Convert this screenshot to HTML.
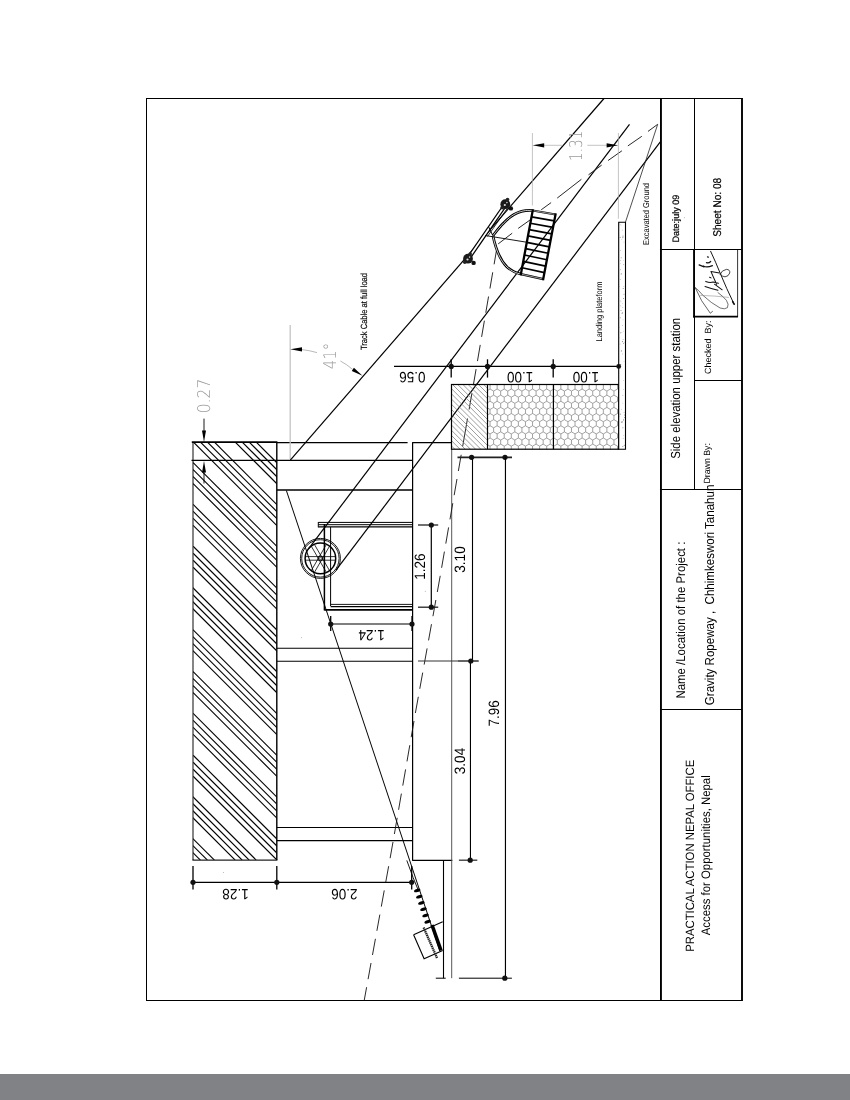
<!DOCTYPE html>
<html lang="en"><head><meta charset="utf-8"><title>Side elevation upper station</title>
<style>
html,body{margin:0;padding:0;background:#fff;}
body{width:850px;height:1100px;overflow:hidden;font-family:"Liberation Sans",sans-serif;}
svg{display:block;}
text{text-rendering:geometricPrecision;}
svg{will-change:transform;}
</style></head><body>
<svg width="850" height="1100" viewBox="0 0 850 1100">
<rect width="850" height="1100" fill="#fff"/>
<rect x="0" y="1074" width="850" height="26" fill="#808285"/>
<clipPath id="hc"><rect x="193.00" y="442.10" width="83.80" height="418.00"/></clipPath>
<g clip-path="url(#hc)" stroke="#000" stroke-width="1.15">
<line x1="-308.20" y1="442.10" x2="109.80" y2="860.10"/>
<line x1="-301.20" y1="442.10" x2="116.80" y2="860.10"/>
<line x1="-294.20" y1="442.10" x2="123.80" y2="860.10"/>
<line x1="-287.20" y1="442.10" x2="130.80" y2="860.10"/>
<line x1="-266.40" y1="442.10" x2="151.60" y2="860.10"/>
<line x1="-259.40" y1="442.10" x2="158.60" y2="860.10"/>
<line x1="-252.40" y1="442.10" x2="165.60" y2="860.10"/>
<line x1="-245.40" y1="442.10" x2="172.60" y2="860.10"/>
<line x1="-224.60" y1="442.10" x2="193.40" y2="860.10"/>
<line x1="-217.60" y1="442.10" x2="200.40" y2="860.10"/>
<line x1="-210.60" y1="442.10" x2="207.40" y2="860.10"/>
<line x1="-203.60" y1="442.10" x2="214.40" y2="860.10"/>
<line x1="-182.80" y1="442.10" x2="235.20" y2="860.10"/>
<line x1="-175.80" y1="442.10" x2="242.20" y2="860.10"/>
<line x1="-168.80" y1="442.10" x2="249.20" y2="860.10"/>
<line x1="-161.80" y1="442.10" x2="256.20" y2="860.10"/>
<line x1="-141.00" y1="442.10" x2="277.00" y2="860.10"/>
<line x1="-134.00" y1="442.10" x2="284.00" y2="860.10"/>
<line x1="-127.00" y1="442.10" x2="291.00" y2="860.10"/>
<line x1="-120.00" y1="442.10" x2="298.00" y2="860.10"/>
<line x1="-99.20" y1="442.10" x2="318.80" y2="860.10"/>
<line x1="-92.20" y1="442.10" x2="325.80" y2="860.10"/>
<line x1="-85.20" y1="442.10" x2="332.80" y2="860.10"/>
<line x1="-78.20" y1="442.10" x2="339.80" y2="860.10"/>
<line x1="-57.40" y1="442.10" x2="360.60" y2="860.10"/>
<line x1="-50.40" y1="442.10" x2="367.60" y2="860.10"/>
<line x1="-43.40" y1="442.10" x2="374.60" y2="860.10"/>
<line x1="-36.40" y1="442.10" x2="381.60" y2="860.10"/>
<line x1="-15.60" y1="442.10" x2="402.40" y2="860.10"/>
<line x1="-8.60" y1="442.10" x2="409.40" y2="860.10"/>
<line x1="-1.60" y1="442.10" x2="416.40" y2="860.10"/>
<line x1="5.40" y1="442.10" x2="423.40" y2="860.10"/>
<line x1="26.20" y1="442.10" x2="444.20" y2="860.10"/>
<line x1="33.20" y1="442.10" x2="451.20" y2="860.10"/>
<line x1="40.20" y1="442.10" x2="458.20" y2="860.10"/>
<line x1="47.20" y1="442.10" x2="465.20" y2="860.10"/>
<line x1="68.00" y1="442.10" x2="486.00" y2="860.10"/>
<line x1="75.00" y1="442.10" x2="493.00" y2="860.10"/>
<line x1="82.00" y1="442.10" x2="500.00" y2="860.10"/>
<line x1="89.00" y1="442.10" x2="507.00" y2="860.10"/>
<line x1="109.80" y1="442.10" x2="527.80" y2="860.10"/>
<line x1="116.80" y1="442.10" x2="534.80" y2="860.10"/>
<line x1="123.80" y1="442.10" x2="541.80" y2="860.10"/>
<line x1="130.80" y1="442.10" x2="548.80" y2="860.10"/>
<line x1="151.60" y1="442.10" x2="569.60" y2="860.10"/>
<line x1="158.60" y1="442.10" x2="576.60" y2="860.10"/>
<line x1="165.60" y1="442.10" x2="583.60" y2="860.10"/>
<line x1="172.60" y1="442.10" x2="590.60" y2="860.10"/>
<line x1="193.40" y1="442.10" x2="611.40" y2="860.10"/>
<line x1="200.40" y1="442.10" x2="618.40" y2="860.10"/>
<line x1="207.40" y1="442.10" x2="625.40" y2="860.10"/>
<line x1="214.40" y1="442.10" x2="632.40" y2="860.10"/>
<line x1="235.20" y1="442.10" x2="653.20" y2="860.10"/>
<line x1="242.20" y1="442.10" x2="660.20" y2="860.10"/>
<line x1="249.20" y1="442.10" x2="667.20" y2="860.10"/>
<line x1="256.20" y1="442.10" x2="674.20" y2="860.10"/>
<line x1="277.00" y1="442.10" x2="695.00" y2="860.10"/>
<line x1="284.00" y1="442.10" x2="702.00" y2="860.10"/>
<line x1="291.00" y1="442.10" x2="709.00" y2="860.10"/>
<line x1="298.00" y1="442.10" x2="716.00" y2="860.10"/>
</g>
<line x1="193.00" y1="442.10" x2="193.00" y2="860.10" stroke="#333" stroke-width="1.2" />
<line x1="192.40" y1="860.10" x2="277.40" y2="860.10" stroke="#222" stroke-width="1.3" />
<line x1="276.80" y1="442.10" x2="276.80" y2="860.10" stroke="#000" stroke-width="1.4" />
<line x1="191.80" y1="442.10" x2="277.40" y2="442.10" stroke="#000" stroke-width="1.6" />
<rect x="146.5" y="98.5" width="595.5" height="902" fill="none" stroke="#000" stroke-width="1"/>
<line x1="660.95" y1="98.50" x2="660.95" y2="1000.50" stroke="#000" stroke-width="1.9" />
<line x1="742.00" y1="98.00" x2="742.00" y2="1001.00" stroke="#000" stroke-width="1.8" />
<line x1="694.50" y1="98.50" x2="694.50" y2="489.40" stroke="#000" stroke-width="1.0" />
<line x1="661.00" y1="249.50" x2="742.00" y2="249.50" stroke="#000" stroke-width="1.0" />
<line x1="694.40" y1="380.50" x2="742.00" y2="380.50" stroke="#000" stroke-width="1.0" />
<line x1="661.00" y1="489.40" x2="742.00" y2="489.40" stroke="#000" stroke-width="1.05" />
<line x1="661.00" y1="709.40" x2="742.00" y2="709.40" stroke="#000" stroke-width="1.05" />
<line x1="694.00" y1="249.00" x2="694.00" y2="317.60" stroke="#000" stroke-width="1.8" />
<line x1="693.10" y1="316.70" x2="738.00" y2="316.70" stroke="#000" stroke-width="1.8" />
<line x1="737.60" y1="249.00" x2="737.60" y2="317.00" stroke="#000" stroke-width="0.8" />
<g transform="translate(690,245) scale(0.07)" fill="none" stroke="#111" stroke-linecap="round" stroke-linejoin="round">
<path d="M295 90 Q370 250 430 400 Q520 620 630 845" stroke-width="14"/>
<path d="M610 810 L630 845" stroke-width="24"/>
<path d="M430 420 Q450 360 520 348 Q575 350 568 400 Q550 450 500 455 Q460 450 440 425" stroke-width="11"/>
<path d="M75 610 Q120 640 180 715 Q300 830 430 900 Q500 925 535 895 Q560 850 520 790 Q480 740 400 680" stroke-width="10" stroke="#333"/>
<path d="M150 720 Q350 725 550 748" stroke-width="7" stroke="#777"/>
<path d="M75 610 Q150 800 290 975 L322 948" stroke-width="10" stroke="#222"/>
<path d="M130 285 L200 312 M190 300 Q240 330 320 295 M235 252 Q270 262 295 235 M250 170 L262 172" stroke-width="18"/>
<path d="M215 592 Q300 620 400 645 M225 520 Q280 545 330 530 L405 548 M350 560 L460 640 M300 380 L420 400 M280 460 L300 470 M300 380 Q330 450 380 560" stroke-width="15"/>
</g>
<text transform="translate(693.80,951.80) rotate(-90)" font-family="'Liberation Sans', sans-serif" font-size="12" fill="#000" text-anchor="start" textLength="192.0" lengthAdjust="spacingAndGlyphs" >PRACTICAL ACTION NEPAL OFFICE</text>
<text transform="translate(709.50,935.30) rotate(-90)" font-family="'Liberation Sans', sans-serif" font-size="12.3" fill="#000" text-anchor="start" textLength="160.0" lengthAdjust="spacingAndGlyphs" >Access for Opportunities, Nepal</text>
<text transform="translate(685.20,698.60) rotate(-90)" font-family="'Liberation Sans', sans-serif" font-size="12.6" fill="#000" text-anchor="start" textLength="157.0" lengthAdjust="spacingAndGlyphs" >Name /Location of the Project :</text>
<text transform="translate(714.30,705.20) rotate(-90)" font-family="'Liberation Sans', sans-serif" font-size="13" fill="#000" text-anchor="start" textLength="220.6" lengthAdjust="spacingAndGlyphs" xml:space="preserve">Gravity Ropeway ,  Chhimkeswori Tanahun</text>
<text transform="translate(679.90,458.80) rotate(-90)" font-family="'Liberation Sans', sans-serif" font-size="13" fill="#000" text-anchor="start" textLength="141.0" lengthAdjust="spacingAndGlyphs" >Side elevation upper station</text>
<text transform="translate(710.40,483.60) rotate(-90)" font-family="'Liberation Sans', sans-serif" font-size="9" fill="#000" text-anchor="start" textLength="40.5" lengthAdjust="spacingAndGlyphs" >Drawn By:</text>
<text transform="translate(710.60,374.00) rotate(-90)" font-family="'Liberation Sans', sans-serif" font-size="9" fill="#000" text-anchor="start" textLength="53.5" lengthAdjust="spacingAndGlyphs" xml:space="preserve">Checked  By:</text>
<text transform="translate(678.70,242.60) rotate(-90)" font-family="'Liberation Sans', sans-serif" font-size="9.4" fill="#000" text-anchor="start" textLength="48.0" lengthAdjust="spacingAndGlyphs" stroke="#000" stroke-width="0.2">Date:july 09</text>
<text transform="translate(721.20,236.80) rotate(-90)" font-family="'Liberation Sans', sans-serif" font-size="11.2" fill="#000" text-anchor="start" textLength="59.0" lengthAdjust="spacingAndGlyphs" stroke="#000" stroke-width="0.2">Sheet No: 08</text>
<line x1="277.00" y1="442.60" x2="407.60" y2="442.60" stroke="#000" stroke-width="1.1" />
<line x1="412.20" y1="442.60" x2="451.70" y2="442.60" stroke="#000" stroke-width="1.1" />
<line x1="191.50" y1="460.30" x2="412.60" y2="460.30" stroke="#000" stroke-width="1.2" />
<line x1="277.00" y1="490.00" x2="412.60" y2="490.00" stroke="#000" stroke-width="1.4" />
<line x1="277.00" y1="648.30" x2="412.60" y2="648.30" stroke="#000" stroke-width="1.1" />
<line x1="277.00" y1="661.30" x2="412.60" y2="661.30" stroke="#000" stroke-width="1.1" />
<line x1="277.00" y1="827.50" x2="412.60" y2="827.50" stroke="#000" stroke-width="1.1" />
<line x1="277.00" y1="840.60" x2="412.60" y2="840.60" stroke="#000" stroke-width="1.1" />
<line x1="412.60" y1="442.60" x2="412.60" y2="860.40" stroke="#000" stroke-width="1.2" />
<line x1="412.20" y1="860.40" x2="452.30" y2="860.40" stroke="#000" stroke-width="1.1" />
<line x1="451.70" y1="449.00" x2="451.70" y2="978.20" stroke="#444" stroke-width="0.9" />
<line x1="443.50" y1="860.40" x2="443.50" y2="978.20" stroke="#000" stroke-width="1.1" />
<line x1="435.80" y1="978.20" x2="445.70" y2="978.20" stroke="#000" stroke-width="1.0" />
<line x1="290.20" y1="325.00" x2="290.20" y2="460.00" stroke="#c4c4c4" stroke-width="1.3" />
<line x1="290.30" y1="460.20" x2="604.00" y2="98.50" stroke="#000" stroke-width="1.2" />
<line x1="308.30" y1="549.20" x2="629.50" y2="124.30" stroke="#000" stroke-width="1.2" />
<line x1="336.00" y1="570.20" x2="660.30" y2="141.80" stroke="#000" stroke-width="1.2" />
<line x1="286.40" y1="490.60" x2="440.00" y2="951.40" stroke="#000" stroke-width="1.0" />
<line x1="657.70" y1="124.30" x2="648.00" y2="131.40" stroke="#111" stroke-width="0.9" />
<line x1="641.80" y1="136.30" x2="627.90" y2="145.90" stroke="#111" stroke-width="0.9" />
<line x1="621.90" y1="150.80" x2="608.10" y2="160.50" stroke="#111" stroke-width="0.9" />
<line x1="601.70" y1="165.10" x2="588.50" y2="174.80" stroke="#111" stroke-width="0.9" />
<line x1="581.40" y1="179.30" x2="557.20" y2="198.10" stroke="#111" stroke-width="0.9" />
<line x1="551.10" y1="202.60" x2="541.20" y2="209.80" stroke="#111" stroke-width="0.9" />
<line x1="530.30" y1="219.80" x2="518.20" y2="228.40" stroke="#111" stroke-width="0.9" />
<line x1="512.20" y1="233.20" x2="498.20" y2="243.90" stroke="#111" stroke-width="0.9" />
<line x1="496.88" y1="248.10" x2="494.10" y2="264.30" stroke="#111" stroke-width="0.9" />
<line x1="492.72" y1="272.30" x2="489.94" y2="288.50" stroke="#111" stroke-width="0.9" />
<line x1="488.56" y1="296.50" x2="485.78" y2="312.70" stroke="#111" stroke-width="0.9" />
<line x1="484.40" y1="320.70" x2="481.62" y2="336.90" stroke="#111" stroke-width="0.9" />
<line x1="480.24" y1="344.90" x2="477.46" y2="361.10" stroke="#111" stroke-width="0.9" />
<line x1="476.08" y1="369.10" x2="473.30" y2="385.30" stroke="#111" stroke-width="0.9" />
<line x1="471.92" y1="393.30" x2="469.10" y2="409.50" stroke="#111" stroke-width="0.9" />
<line x1="467.53" y1="418.50" x2="462.63" y2="446.60" stroke="#111" stroke-width="0.9" />
<line x1="461.20" y1="454.80" x2="458.37" y2="471.00" stroke="#111" stroke-width="0.9" />
<line x1="456.97" y1="479.00" x2="454.17" y2="495.20" stroke="#111" stroke-width="0.9" />
<line x1="452.79" y1="503.20" x2="449.98" y2="519.40" stroke="#111" stroke-width="0.9" />
<line x1="448.60" y1="527.40" x2="445.80" y2="543.60" stroke="#111" stroke-width="0.9" />
<line x1="444.41" y1="551.60" x2="441.61" y2="567.80" stroke="#111" stroke-width="0.9" />
<line x1="440.23" y1="575.80" x2="437.32" y2="592.00" stroke="#111" stroke-width="0.9" />
<line x1="435.87" y1="600.00" x2="432.94" y2="616.20" stroke="#111" stroke-width="0.9" />
<line x1="431.48" y1="624.20" x2="428.55" y2="640.40" stroke="#111" stroke-width="0.9" />
<line x1="427.10" y1="648.40" x2="424.16" y2="664.60" stroke="#111" stroke-width="0.9" />
<line x1="422.71" y1="672.60" x2="419.77" y2="688.80" stroke="#111" stroke-width="0.9" />
<line x1="418.32" y1="696.80" x2="415.39" y2="713.00" stroke="#111" stroke-width="0.9" />
<line x1="414.00" y1="721.00" x2="411.19" y2="737.20" stroke="#111" stroke-width="0.9" />
<line x1="409.80" y1="745.20" x2="406.99" y2="761.40" stroke="#111" stroke-width="0.9" />
<line x1="405.60" y1="769.40" x2="402.78" y2="785.60" stroke="#111" stroke-width="0.9" />
<line x1="401.39" y1="793.60" x2="398.58" y2="809.80" stroke="#111" stroke-width="0.9" />
<line x1="397.19" y1="817.80" x2="394.38" y2="834.00" stroke="#111" stroke-width="0.9" />
<line x1="392.99" y1="842.00" x2="390.11" y2="858.20" stroke="#111" stroke-width="0.9" />
<line x1="388.65" y1="866.20" x2="385.70" y2="882.40" stroke="#111" stroke-width="0.9" />
<line x1="384.24" y1="890.40" x2="381.30" y2="906.60" stroke="#111" stroke-width="0.9" />
<line x1="379.84" y1="914.60" x2="376.89" y2="930.80" stroke="#111" stroke-width="0.9" />
<line x1="375.43" y1="938.80" x2="372.48" y2="955.00" stroke="#111" stroke-width="0.9" />
<line x1="371.03" y1="963.00" x2="368.08" y2="979.20" stroke="#111" stroke-width="0.9" />
<line x1="366.62" y1="987.20" x2="364.20" y2="1000.50" stroke="#111" stroke-width="0.9" />
<line x1="657.70" y1="124.30" x2="625.50" y2="222.00" stroke="#222" stroke-width="0.8" />
<circle cx="320.4" cy="558.4" r="20.0" fill="none" stroke="#000" stroke-width="0.9"/>
<circle cx="320.4" cy="558.4" r="18.7" fill="none" stroke="#000" stroke-width="0.9"/>
<circle cx="320.4" cy="558.4" r="15.3" fill="none" stroke="#000" stroke-width="1.5"/>
<circle cx="320.4" cy="558.4" r="2.5" fill="none" stroke="#000" stroke-width="0.7"/>
<circle cx="320.4" cy="558.4" r="1" fill="none" stroke="#000" stroke-width="0.5"/>
<line x1="305.40" y1="556.60" x2="335.40" y2="556.60" stroke="#000" stroke-width="0.8" />
<line x1="305.40" y1="560.20" x2="335.40" y2="560.20" stroke="#000" stroke-width="0.8" />
<line x1="314.46" y1="544.51" x2="329.46" y2="570.49" stroke="#000" stroke-width="0.8" />
<line x1="311.34" y1="546.31" x2="326.34" y2="572.29" stroke="#000" stroke-width="0.8" />
<line x1="329.46" y1="546.31" x2="314.46" y2="572.29" stroke="#000" stroke-width="0.8" />
<line x1="326.34" y1="544.51" x2="311.34" y2="570.49" stroke="#000" stroke-width="0.8" />
<line x1="318.30" y1="522.40" x2="412.60" y2="522.40" stroke="#000" stroke-width="1.0" />
<line x1="318.30" y1="524.70" x2="412.60" y2="524.70" stroke="#000" stroke-width="1.0" />
<line x1="318.30" y1="526.90" x2="412.60" y2="526.90" stroke="#000" stroke-width="1.1" />
<line x1="318.30" y1="522.00" x2="318.30" y2="527.40" stroke="#000" stroke-width="1.0" />
<line x1="324.40" y1="524.00" x2="324.40" y2="610.40" stroke="#000" stroke-width="1.5" />
<line x1="330.60" y1="527.00" x2="330.60" y2="606.00" stroke="#000" stroke-width="1.0" />
<line x1="330.60" y1="604.40" x2="412.60" y2="604.40" stroke="#000" stroke-width="0.9" />
<line x1="330.60" y1="606.60" x2="412.60" y2="606.60" stroke="#000" stroke-width="1.1" />
<line x1="324.40" y1="609.80" x2="412.60" y2="609.80" stroke="#000" stroke-width="1.7" />
<defs><clipPath id="fhc"><rect x="451.5" y="384.5" width="36.0" height="64.69999999999999"/></clipPath><clipPath id="hxc"><rect x="487.5" y="384.5" width="131.20" height="64.70"/></clipPath></defs>
<path clip-path="url(#hxc)" d="M475.90 372.72v4.08l3.54 2.04l3.54 -2.04M479.44 378.84v4.08l-3.54 2.04M479.44 382.92l3.54 2.04M482.98 372.72v4.08l3.54 2.04l3.54 -2.04M486.52 378.84v4.08l-3.54 2.04M486.52 382.92l3.54 2.04M490.06 372.72v4.08l3.54 2.04l3.54 -2.04M493.60 378.84v4.08l-3.54 2.04M493.60 382.92l3.54 2.04M497.14 372.72v4.08l3.54 2.04l3.54 -2.04M500.68 378.84v4.08l-3.54 2.04M500.68 382.92l3.54 2.04M504.22 372.72v4.08l3.54 2.04l3.54 -2.04M507.76 378.84v4.08l-3.54 2.04M507.76 382.92l3.54 2.04M511.30 372.72v4.08l3.54 2.04l3.54 -2.04M514.84 378.84v4.08l-3.54 2.04M514.84 382.92l3.54 2.04M518.38 372.72v4.08l3.54 2.04l3.54 -2.04M521.92 378.84v4.08l-3.54 2.04M521.92 382.92l3.54 2.04M525.46 372.72v4.08l3.54 2.04l3.54 -2.04M529.00 378.84v4.08l-3.54 2.04M529.00 382.92l3.54 2.04M532.54 372.72v4.08l3.54 2.04l3.54 -2.04M536.08 378.84v4.08l-3.54 2.04M536.08 382.92l3.54 2.04M539.62 372.72v4.08l3.54 2.04l3.54 -2.04M543.16 378.84v4.08l-3.54 2.04M543.16 382.92l3.54 2.04M546.70 372.72v4.08l3.54 2.04l3.54 -2.04M550.24 378.84v4.08l-3.54 2.04M550.24 382.92l3.54 2.04M553.78 372.72v4.08l3.54 2.04l3.54 -2.04M557.32 378.84v4.08l-3.54 2.04M557.32 382.92l3.54 2.04M560.86 372.72v4.08l3.54 2.04l3.54 -2.04M564.40 378.84v4.08l-3.54 2.04M564.40 382.92l3.54 2.04M567.94 372.72v4.08l3.54 2.04l3.54 -2.04M571.48 378.84v4.08l-3.54 2.04M571.48 382.92l3.54 2.04M575.02 372.72v4.08l3.54 2.04l3.54 -2.04M578.56 378.84v4.08l-3.54 2.04M578.56 382.92l3.54 2.04M582.10 372.72v4.08l3.54 2.04l3.54 -2.04M585.64 378.84v4.08l-3.54 2.04M585.64 382.92l3.54 2.04M589.18 372.72v4.08l3.54 2.04l3.54 -2.04M592.72 378.84v4.08l-3.54 2.04M592.72 382.92l3.54 2.04M596.26 372.72v4.08l3.54 2.04l3.54 -2.04M599.80 378.84v4.08l-3.54 2.04M599.80 382.92l3.54 2.04M603.34 372.72v4.08l3.54 2.04l3.54 -2.04M606.88 378.84v4.08l-3.54 2.04M606.88 382.92l3.54 2.04M610.42 372.72v4.08l3.54 2.04l3.54 -2.04M613.96 378.84v4.08l-3.54 2.04M613.96 382.92l3.54 2.04M617.50 372.72v4.08l3.54 2.04l3.54 -2.04M621.04 378.84v4.08l-3.54 2.04M621.04 382.92l3.54 2.04M624.58 372.72v4.08l3.54 2.04l3.54 -2.04M628.12 378.84v4.08l-3.54 2.04M628.12 382.92l3.54 2.04M475.90 384.96v4.08l3.54 2.04l3.54 -2.04M479.44 391.08v4.08l-3.54 2.04M479.44 395.16l3.54 2.04M482.98 384.96v4.08l3.54 2.04l3.54 -2.04M486.52 391.08v4.08l-3.54 2.04M486.52 395.16l3.54 2.04M490.06 384.96v4.08l3.54 2.04l3.54 -2.04M493.60 391.08v4.08l-3.54 2.04M493.60 395.16l3.54 2.04M497.14 384.96v4.08l3.54 2.04l3.54 -2.04M500.68 391.08v4.08l-3.54 2.04M500.68 395.16l3.54 2.04M504.22 384.96v4.08l3.54 2.04l3.54 -2.04M507.76 391.08v4.08l-3.54 2.04M507.76 395.16l3.54 2.04M511.30 384.96v4.08l3.54 2.04l3.54 -2.04M514.84 391.08v4.08l-3.54 2.04M514.84 395.16l3.54 2.04M518.38 384.96v4.08l3.54 2.04l3.54 -2.04M521.92 391.08v4.08l-3.54 2.04M521.92 395.16l3.54 2.04M525.46 384.96v4.08l3.54 2.04l3.54 -2.04M529.00 391.08v4.08l-3.54 2.04M529.00 395.16l3.54 2.04M532.54 384.96v4.08l3.54 2.04l3.54 -2.04M536.08 391.08v4.08l-3.54 2.04M536.08 395.16l3.54 2.04M539.62 384.96v4.08l3.54 2.04l3.54 -2.04M543.16 391.08v4.08l-3.54 2.04M543.16 395.16l3.54 2.04M546.70 384.96v4.08l3.54 2.04l3.54 -2.04M550.24 391.08v4.08l-3.54 2.04M550.24 395.16l3.54 2.04M553.78 384.96v4.08l3.54 2.04l3.54 -2.04M557.32 391.08v4.08l-3.54 2.04M557.32 395.16l3.54 2.04M560.86 384.96v4.08l3.54 2.04l3.54 -2.04M564.40 391.08v4.08l-3.54 2.04M564.40 395.16l3.54 2.04M567.94 384.96v4.08l3.54 2.04l3.54 -2.04M571.48 391.08v4.08l-3.54 2.04M571.48 395.16l3.54 2.04M575.02 384.96v4.08l3.54 2.04l3.54 -2.04M578.56 391.08v4.08l-3.54 2.04M578.56 395.16l3.54 2.04M582.10 384.96v4.08l3.54 2.04l3.54 -2.04M585.64 391.08v4.08l-3.54 2.04M585.64 395.16l3.54 2.04M589.18 384.96v4.08l3.54 2.04l3.54 -2.04M592.72 391.08v4.08l-3.54 2.04M592.72 395.16l3.54 2.04M596.26 384.96v4.08l3.54 2.04l3.54 -2.04M599.80 391.08v4.08l-3.54 2.04M599.80 395.16l3.54 2.04M603.34 384.96v4.08l3.54 2.04l3.54 -2.04M606.88 391.08v4.08l-3.54 2.04M606.88 395.16l3.54 2.04M610.42 384.96v4.08l3.54 2.04l3.54 -2.04M613.96 391.08v4.08l-3.54 2.04M613.96 395.16l3.54 2.04M617.50 384.96v4.08l3.54 2.04l3.54 -2.04M621.04 391.08v4.08l-3.54 2.04M621.04 395.16l3.54 2.04M624.58 384.96v4.08l3.54 2.04l3.54 -2.04M628.12 391.08v4.08l-3.54 2.04M628.12 395.16l3.54 2.04M475.90 397.20v4.08l3.54 2.04l3.54 -2.04M479.44 403.32v4.08l-3.54 2.04M479.44 407.40l3.54 2.04M482.98 397.20v4.08l3.54 2.04l3.54 -2.04M486.52 403.32v4.08l-3.54 2.04M486.52 407.40l3.54 2.04M490.06 397.20v4.08l3.54 2.04l3.54 -2.04M493.60 403.32v4.08l-3.54 2.04M493.60 407.40l3.54 2.04M497.14 397.20v4.08l3.54 2.04l3.54 -2.04M500.68 403.32v4.08l-3.54 2.04M500.68 407.40l3.54 2.04M504.22 397.20v4.08l3.54 2.04l3.54 -2.04M507.76 403.32v4.08l-3.54 2.04M507.76 407.40l3.54 2.04M511.30 397.20v4.08l3.54 2.04l3.54 -2.04M514.84 403.32v4.08l-3.54 2.04M514.84 407.40l3.54 2.04M518.38 397.20v4.08l3.54 2.04l3.54 -2.04M521.92 403.32v4.08l-3.54 2.04M521.92 407.40l3.54 2.04M525.46 397.20v4.08l3.54 2.04l3.54 -2.04M529.00 403.32v4.08l-3.54 2.04M529.00 407.40l3.54 2.04M532.54 397.20v4.08l3.54 2.04l3.54 -2.04M536.08 403.32v4.08l-3.54 2.04M536.08 407.40l3.54 2.04M539.62 397.20v4.08l3.54 2.04l3.54 -2.04M543.16 403.32v4.08l-3.54 2.04M543.16 407.40l3.54 2.04M546.70 397.20v4.08l3.54 2.04l3.54 -2.04M550.24 403.32v4.08l-3.54 2.04M550.24 407.40l3.54 2.04M553.78 397.20v4.08l3.54 2.04l3.54 -2.04M557.32 403.32v4.08l-3.54 2.04M557.32 407.40l3.54 2.04M560.86 397.20v4.08l3.54 2.04l3.54 -2.04M564.40 403.32v4.08l-3.54 2.04M564.40 407.40l3.54 2.04M567.94 397.20v4.08l3.54 2.04l3.54 -2.04M571.48 403.32v4.08l-3.54 2.04M571.48 407.40l3.54 2.04M575.02 397.20v4.08l3.54 2.04l3.54 -2.04M578.56 403.32v4.08l-3.54 2.04M578.56 407.40l3.54 2.04M582.10 397.20v4.08l3.54 2.04l3.54 -2.04M585.64 403.32v4.08l-3.54 2.04M585.64 407.40l3.54 2.04M589.18 397.20v4.08l3.54 2.04l3.54 -2.04M592.72 403.32v4.08l-3.54 2.04M592.72 407.40l3.54 2.04M596.26 397.20v4.08l3.54 2.04l3.54 -2.04M599.80 403.32v4.08l-3.54 2.04M599.80 407.40l3.54 2.04M603.34 397.20v4.08l3.54 2.04l3.54 -2.04M606.88 403.32v4.08l-3.54 2.04M606.88 407.40l3.54 2.04M610.42 397.20v4.08l3.54 2.04l3.54 -2.04M613.96 403.32v4.08l-3.54 2.04M613.96 407.40l3.54 2.04M617.50 397.20v4.08l3.54 2.04l3.54 -2.04M621.04 403.32v4.08l-3.54 2.04M621.04 407.40l3.54 2.04M624.58 397.20v4.08l3.54 2.04l3.54 -2.04M628.12 403.32v4.08l-3.54 2.04M628.12 407.40l3.54 2.04M475.90 409.44v4.08l3.54 2.04l3.54 -2.04M479.44 415.56v4.08l-3.54 2.04M479.44 419.64l3.54 2.04M482.98 409.44v4.08l3.54 2.04l3.54 -2.04M486.52 415.56v4.08l-3.54 2.04M486.52 419.64l3.54 2.04M490.06 409.44v4.08l3.54 2.04l3.54 -2.04M493.60 415.56v4.08l-3.54 2.04M493.60 419.64l3.54 2.04M497.14 409.44v4.08l3.54 2.04l3.54 -2.04M500.68 415.56v4.08l-3.54 2.04M500.68 419.64l3.54 2.04M504.22 409.44v4.08l3.54 2.04l3.54 -2.04M507.76 415.56v4.08l-3.54 2.04M507.76 419.64l3.54 2.04M511.30 409.44v4.08l3.54 2.04l3.54 -2.04M514.84 415.56v4.08l-3.54 2.04M514.84 419.64l3.54 2.04M518.38 409.44v4.08l3.54 2.04l3.54 -2.04M521.92 415.56v4.08l-3.54 2.04M521.92 419.64l3.54 2.04M525.46 409.44v4.08l3.54 2.04l3.54 -2.04M529.00 415.56v4.08l-3.54 2.04M529.00 419.64l3.54 2.04M532.54 409.44v4.08l3.54 2.04l3.54 -2.04M536.08 415.56v4.08l-3.54 2.04M536.08 419.64l3.54 2.04M539.62 409.44v4.08l3.54 2.04l3.54 -2.04M543.16 415.56v4.08l-3.54 2.04M543.16 419.64l3.54 2.04M546.70 409.44v4.08l3.54 2.04l3.54 -2.04M550.24 415.56v4.08l-3.54 2.04M550.24 419.64l3.54 2.04M553.78 409.44v4.08l3.54 2.04l3.54 -2.04M557.32 415.56v4.08l-3.54 2.04M557.32 419.64l3.54 2.04M560.86 409.44v4.08l3.54 2.04l3.54 -2.04M564.40 415.56v4.08l-3.54 2.04M564.40 419.64l3.54 2.04M567.94 409.44v4.08l3.54 2.04l3.54 -2.04M571.48 415.56v4.08l-3.54 2.04M571.48 419.64l3.54 2.04M575.02 409.44v4.08l3.54 2.04l3.54 -2.04M578.56 415.56v4.08l-3.54 2.04M578.56 419.64l3.54 2.04M582.10 409.44v4.08l3.54 2.04l3.54 -2.04M585.64 415.56v4.08l-3.54 2.04M585.64 419.64l3.54 2.04M589.18 409.44v4.08l3.54 2.04l3.54 -2.04M592.72 415.56v4.08l-3.54 2.04M592.72 419.64l3.54 2.04M596.26 409.44v4.08l3.54 2.04l3.54 -2.04M599.80 415.56v4.08l-3.54 2.04M599.80 419.64l3.54 2.04M603.34 409.44v4.08l3.54 2.04l3.54 -2.04M606.88 415.56v4.08l-3.54 2.04M606.88 419.64l3.54 2.04M610.42 409.44v4.08l3.54 2.04l3.54 -2.04M613.96 415.56v4.08l-3.54 2.04M613.96 419.64l3.54 2.04M617.50 409.44v4.08l3.54 2.04l3.54 -2.04M621.04 415.56v4.08l-3.54 2.04M621.04 419.64l3.54 2.04M624.58 409.44v4.08l3.54 2.04l3.54 -2.04M628.12 415.56v4.08l-3.54 2.04M628.12 419.64l3.54 2.04M475.90 421.68v4.08l3.54 2.04l3.54 -2.04M479.44 427.80v4.08l-3.54 2.04M479.44 431.88l3.54 2.04M482.98 421.68v4.08l3.54 2.04l3.54 -2.04M486.52 427.80v4.08l-3.54 2.04M486.52 431.88l3.54 2.04M490.06 421.68v4.08l3.54 2.04l3.54 -2.04M493.60 427.80v4.08l-3.54 2.04M493.60 431.88l3.54 2.04M497.14 421.68v4.08l3.54 2.04l3.54 -2.04M500.68 427.80v4.08l-3.54 2.04M500.68 431.88l3.54 2.04M504.22 421.68v4.08l3.54 2.04l3.54 -2.04M507.76 427.80v4.08l-3.54 2.04M507.76 431.88l3.54 2.04M511.30 421.68v4.08l3.54 2.04l3.54 -2.04M514.84 427.80v4.08l-3.54 2.04M514.84 431.88l3.54 2.04M518.38 421.68v4.08l3.54 2.04l3.54 -2.04M521.92 427.80v4.08l-3.54 2.04M521.92 431.88l3.54 2.04M525.46 421.68v4.08l3.54 2.04l3.54 -2.04M529.00 427.80v4.08l-3.54 2.04M529.00 431.88l3.54 2.04M532.54 421.68v4.08l3.54 2.04l3.54 -2.04M536.08 427.80v4.08l-3.54 2.04M536.08 431.88l3.54 2.04M539.62 421.68v4.08l3.54 2.04l3.54 -2.04M543.16 427.80v4.08l-3.54 2.04M543.16 431.88l3.54 2.04M546.70 421.68v4.08l3.54 2.04l3.54 -2.04M550.24 427.80v4.08l-3.54 2.04M550.24 431.88l3.54 2.04M553.78 421.68v4.08l3.54 2.04l3.54 -2.04M557.32 427.80v4.08l-3.54 2.04M557.32 431.88l3.54 2.04M560.86 421.68v4.08l3.54 2.04l3.54 -2.04M564.40 427.80v4.08l-3.54 2.04M564.40 431.88l3.54 2.04M567.94 421.68v4.08l3.54 2.04l3.54 -2.04M571.48 427.80v4.08l-3.54 2.04M571.48 431.88l3.54 2.04M575.02 421.68v4.08l3.54 2.04l3.54 -2.04M578.56 427.80v4.08l-3.54 2.04M578.56 431.88l3.54 2.04M582.10 421.68v4.08l3.54 2.04l3.54 -2.04M585.64 427.80v4.08l-3.54 2.04M585.64 431.88l3.54 2.04M589.18 421.68v4.08l3.54 2.04l3.54 -2.04M592.72 427.80v4.08l-3.54 2.04M592.72 431.88l3.54 2.04M596.26 421.68v4.08l3.54 2.04l3.54 -2.04M599.80 427.80v4.08l-3.54 2.04M599.80 431.88l3.54 2.04M603.34 421.68v4.08l3.54 2.04l3.54 -2.04M606.88 427.80v4.08l-3.54 2.04M606.88 431.88l3.54 2.04M610.42 421.68v4.08l3.54 2.04l3.54 -2.04M613.96 427.80v4.08l-3.54 2.04M613.96 431.88l3.54 2.04M617.50 421.68v4.08l3.54 2.04l3.54 -2.04M621.04 427.80v4.08l-3.54 2.04M621.04 431.88l3.54 2.04M624.58 421.68v4.08l3.54 2.04l3.54 -2.04M628.12 427.80v4.08l-3.54 2.04M628.12 431.88l3.54 2.04M475.90 433.92v4.08l3.54 2.04l3.54 -2.04M479.44 440.04v4.08l-3.54 2.04M479.44 444.12l3.54 2.04M482.98 433.92v4.08l3.54 2.04l3.54 -2.04M486.52 440.04v4.08l-3.54 2.04M486.52 444.12l3.54 2.04M490.06 433.92v4.08l3.54 2.04l3.54 -2.04M493.60 440.04v4.08l-3.54 2.04M493.60 444.12l3.54 2.04M497.14 433.92v4.08l3.54 2.04l3.54 -2.04M500.68 440.04v4.08l-3.54 2.04M500.68 444.12l3.54 2.04M504.22 433.92v4.08l3.54 2.04l3.54 -2.04M507.76 440.04v4.08l-3.54 2.04M507.76 444.12l3.54 2.04M511.30 433.92v4.08l3.54 2.04l3.54 -2.04M514.84 440.04v4.08l-3.54 2.04M514.84 444.12l3.54 2.04M518.38 433.92v4.08l3.54 2.04l3.54 -2.04M521.92 440.04v4.08l-3.54 2.04M521.92 444.12l3.54 2.04M525.46 433.92v4.08l3.54 2.04l3.54 -2.04M529.00 440.04v4.08l-3.54 2.04M529.00 444.12l3.54 2.04M532.54 433.92v4.08l3.54 2.04l3.54 -2.04M536.08 440.04v4.08l-3.54 2.04M536.08 444.12l3.54 2.04M539.62 433.92v4.08l3.54 2.04l3.54 -2.04M543.16 440.04v4.08l-3.54 2.04M543.16 444.12l3.54 2.04M546.70 433.92v4.08l3.54 2.04l3.54 -2.04M550.24 440.04v4.08l-3.54 2.04M550.24 444.12l3.54 2.04M553.78 433.92v4.08l3.54 2.04l3.54 -2.04M557.32 440.04v4.08l-3.54 2.04M557.32 444.12l3.54 2.04M560.86 433.92v4.08l3.54 2.04l3.54 -2.04M564.40 440.04v4.08l-3.54 2.04M564.40 444.12l3.54 2.04M567.94 433.92v4.08l3.54 2.04l3.54 -2.04M571.48 440.04v4.08l-3.54 2.04M571.48 444.12l3.54 2.04M575.02 433.92v4.08l3.54 2.04l3.54 -2.04M578.56 440.04v4.08l-3.54 2.04M578.56 444.12l3.54 2.04M582.10 433.92v4.08l3.54 2.04l3.54 -2.04M585.64 440.04v4.08l-3.54 2.04M585.64 444.12l3.54 2.04M589.18 433.92v4.08l3.54 2.04l3.54 -2.04M592.72 440.04v4.08l-3.54 2.04M592.72 444.12l3.54 2.04M596.26 433.92v4.08l3.54 2.04l3.54 -2.04M599.80 440.04v4.08l-3.54 2.04M599.80 444.12l3.54 2.04M603.34 433.92v4.08l3.54 2.04l3.54 -2.04M606.88 440.04v4.08l-3.54 2.04M606.88 444.12l3.54 2.04M610.42 433.92v4.08l3.54 2.04l3.54 -2.04M613.96 440.04v4.08l-3.54 2.04M613.96 444.12l3.54 2.04M617.50 433.92v4.08l3.54 2.04l3.54 -2.04M621.04 440.04v4.08l-3.54 2.04M621.04 444.12l3.54 2.04M624.58 433.92v4.08l3.54 2.04l3.54 -2.04M628.12 440.04v4.08l-3.54 2.04M628.12 444.12l3.54 2.04M475.90 446.16v4.08l3.54 2.04l3.54 -2.04M479.44 452.28v4.08l-3.54 2.04M479.44 456.36l3.54 2.04M482.98 446.16v4.08l3.54 2.04l3.54 -2.04M486.52 452.28v4.08l-3.54 2.04M486.52 456.36l3.54 2.04M490.06 446.16v4.08l3.54 2.04l3.54 -2.04M493.60 452.28v4.08l-3.54 2.04M493.60 456.36l3.54 2.04M497.14 446.16v4.08l3.54 2.04l3.54 -2.04M500.68 452.28v4.08l-3.54 2.04M500.68 456.36l3.54 2.04M504.22 446.16v4.08l3.54 2.04l3.54 -2.04M507.76 452.28v4.08l-3.54 2.04M507.76 456.36l3.54 2.04M511.30 446.16v4.08l3.54 2.04l3.54 -2.04M514.84 452.28v4.08l-3.54 2.04M514.84 456.36l3.54 2.04M518.38 446.16v4.08l3.54 2.04l3.54 -2.04M521.92 452.28v4.08l-3.54 2.04M521.92 456.36l3.54 2.04M525.46 446.16v4.08l3.54 2.04l3.54 -2.04M529.00 452.28v4.08l-3.54 2.04M529.00 456.36l3.54 2.04M532.54 446.16v4.08l3.54 2.04l3.54 -2.04M536.08 452.28v4.08l-3.54 2.04M536.08 456.36l3.54 2.04M539.62 446.16v4.08l3.54 2.04l3.54 -2.04M543.16 452.28v4.08l-3.54 2.04M543.16 456.36l3.54 2.04M546.70 446.16v4.08l3.54 2.04l3.54 -2.04M550.24 452.28v4.08l-3.54 2.04M550.24 456.36l3.54 2.04M553.78 446.16v4.08l3.54 2.04l3.54 -2.04M557.32 452.28v4.08l-3.54 2.04M557.32 456.36l3.54 2.04M560.86 446.16v4.08l3.54 2.04l3.54 -2.04M564.40 452.28v4.08l-3.54 2.04M564.40 456.36l3.54 2.04M567.94 446.16v4.08l3.54 2.04l3.54 -2.04M571.48 452.28v4.08l-3.54 2.04M571.48 456.36l3.54 2.04M575.02 446.16v4.08l3.54 2.04l3.54 -2.04M578.56 452.28v4.08l-3.54 2.04M578.56 456.36l3.54 2.04M582.10 446.16v4.08l3.54 2.04l3.54 -2.04M585.64 452.28v4.08l-3.54 2.04M585.64 456.36l3.54 2.04M589.18 446.16v4.08l3.54 2.04l3.54 -2.04M592.72 452.28v4.08l-3.54 2.04M592.72 456.36l3.54 2.04M596.26 446.16v4.08l3.54 2.04l3.54 -2.04M599.80 452.28v4.08l-3.54 2.04M599.80 456.36l3.54 2.04M603.34 446.16v4.08l3.54 2.04l3.54 -2.04M606.88 452.28v4.08l-3.54 2.04M606.88 456.36l3.54 2.04M610.42 446.16v4.08l3.54 2.04l3.54 -2.04M613.96 452.28v4.08l-3.54 2.04M613.96 456.36l3.54 2.04M617.50 446.16v4.08l3.54 2.04l3.54 -2.04M621.04 452.28v4.08l-3.54 2.04M621.04 456.36l3.54 2.04M624.58 446.16v4.08l3.54 2.04l3.54 -2.04M628.12 452.28v4.08l-3.54 2.04M628.12 456.36l3.54 2.04M475.90 458.40v4.08l3.54 2.04l3.54 -2.04M479.44 464.52v4.08l-3.54 2.04M479.44 468.60l3.54 2.04M482.98 458.40v4.08l3.54 2.04l3.54 -2.04M486.52 464.52v4.08l-3.54 2.04M486.52 468.60l3.54 2.04M490.06 458.40v4.08l3.54 2.04l3.54 -2.04M493.60 464.52v4.08l-3.54 2.04M493.60 468.60l3.54 2.04M497.14 458.40v4.08l3.54 2.04l3.54 -2.04M500.68 464.52v4.08l-3.54 2.04M500.68 468.60l3.54 2.04M504.22 458.40v4.08l3.54 2.04l3.54 -2.04M507.76 464.52v4.08l-3.54 2.04M507.76 468.60l3.54 2.04M511.30 458.40v4.08l3.54 2.04l3.54 -2.04M514.84 464.52v4.08l-3.54 2.04M514.84 468.60l3.54 2.04M518.38 458.40v4.08l3.54 2.04l3.54 -2.04M521.92 464.52v4.08l-3.54 2.04M521.92 468.60l3.54 2.04M525.46 458.40v4.08l3.54 2.04l3.54 -2.04M529.00 464.52v4.08l-3.54 2.04M529.00 468.60l3.54 2.04M532.54 458.40v4.08l3.54 2.04l3.54 -2.04M536.08 464.52v4.08l-3.54 2.04M536.08 468.60l3.54 2.04M539.62 458.40v4.08l3.54 2.04l3.54 -2.04M543.16 464.52v4.08l-3.54 2.04M543.16 468.60l3.54 2.04M546.70 458.40v4.08l3.54 2.04l3.54 -2.04M550.24 464.52v4.08l-3.54 2.04M550.24 468.60l3.54 2.04M553.78 458.40v4.08l3.54 2.04l3.54 -2.04M557.32 464.52v4.08l-3.54 2.04M557.32 468.60l3.54 2.04M560.86 458.40v4.08l3.54 2.04l3.54 -2.04M564.40 464.52v4.08l-3.54 2.04M564.40 468.60l3.54 2.04M567.94 458.40v4.08l3.54 2.04l3.54 -2.04M571.48 464.52v4.08l-3.54 2.04M571.48 468.60l3.54 2.04M575.02 458.40v4.08l3.54 2.04l3.54 -2.04M578.56 464.52v4.08l-3.54 2.04M578.56 468.60l3.54 2.04M582.10 458.40v4.08l3.54 2.04l3.54 -2.04M585.64 464.52v4.08l-3.54 2.04M585.64 468.60l3.54 2.04M589.18 458.40v4.08l3.54 2.04l3.54 -2.04M592.72 464.52v4.08l-3.54 2.04M592.72 468.60l3.54 2.04M596.26 458.40v4.08l3.54 2.04l3.54 -2.04M599.80 464.52v4.08l-3.54 2.04M599.80 468.60l3.54 2.04M603.34 458.40v4.08l3.54 2.04l3.54 -2.04M606.88 464.52v4.08l-3.54 2.04M606.88 468.60l3.54 2.04M610.42 458.40v4.08l3.54 2.04l3.54 -2.04M613.96 464.52v4.08l-3.54 2.04M613.96 468.60l3.54 2.04M617.50 458.40v4.08l3.54 2.04l3.54 -2.04M621.04 464.52v4.08l-3.54 2.04M621.04 468.60l3.54 2.04M624.58 458.40v4.08l3.54 2.04l3.54 -2.04M628.12 464.52v4.08l-3.54 2.04M628.12 468.60l3.54 2.04" fill="none" stroke="#8c8c8c" stroke-width="0.8"/>
<g clip-path="url(#fhc)" stroke="#7c7c7c" stroke-width="0.75">
<line x1="353.70" y1="384.5" x2="418.40" y2="449.2"/>
<line x1="358.90" y1="384.5" x2="423.60" y2="449.2"/>
<line x1="364.10" y1="384.5" x2="428.80" y2="449.2"/>
<line x1="369.30" y1="384.5" x2="434.00" y2="449.2"/>
<line x1="374.50" y1="384.5" x2="439.20" y2="449.2"/>
<line x1="379.70" y1="384.5" x2="444.40" y2="449.2"/>
<line x1="384.90" y1="384.5" x2="449.60" y2="449.2"/>
<line x1="390.10" y1="384.5" x2="454.80" y2="449.2"/>
<line x1="395.30" y1="384.5" x2="460.00" y2="449.2"/>
<line x1="400.50" y1="384.5" x2="465.20" y2="449.2"/>
<line x1="405.70" y1="384.5" x2="470.40" y2="449.2"/>
<line x1="410.90" y1="384.5" x2="475.60" y2="449.2"/>
<line x1="416.10" y1="384.5" x2="480.80" y2="449.2"/>
<line x1="421.30" y1="384.5" x2="486.00" y2="449.2"/>
<line x1="426.50" y1="384.5" x2="491.20" y2="449.2"/>
<line x1="431.70" y1="384.5" x2="496.40" y2="449.2"/>
<line x1="436.90" y1="384.5" x2="501.60" y2="449.2"/>
<line x1="442.10" y1="384.5" x2="506.80" y2="449.2"/>
<line x1="447.30" y1="384.5" x2="512.00" y2="449.2"/>
<line x1="452.50" y1="384.5" x2="517.20" y2="449.2"/>
<line x1="457.70" y1="384.5" x2="522.40" y2="449.2"/>
<line x1="462.90" y1="384.5" x2="527.60" y2="449.2"/>
<line x1="468.10" y1="384.5" x2="532.80" y2="449.2"/>
<line x1="473.30" y1="384.5" x2="538.00" y2="449.2"/>
<line x1="478.50" y1="384.5" x2="543.20" y2="449.2"/>
<line x1="483.70" y1="384.5" x2="548.40" y2="449.2"/>
</g>
<rect x="451.5" y="384.5" width="167.20" height="64.70" fill="none" stroke="#000" stroke-width="1.2"/>
<line x1="487.50" y1="384.50" x2="487.50" y2="449.20" stroke="#000" stroke-width="1.2" />
<line x1="553.40" y1="384.50" x2="553.40" y2="449.20" stroke="#000" stroke-width="1.2" />
<path d="M618.7 449.2 V222.3 H625.5 V449.2 Z" fill="#fff" stroke="#000" stroke-width="1.1"/>
<circle cx="621.2" cy="257.8" r="0.50" fill="#888"/>
<circle cx="620.0" cy="344.0" r="0.41" fill="#888"/>
<circle cx="619.9" cy="337.7" r="0.31" fill="#888"/>
<circle cx="621.8" cy="239.6" r="0.33" fill="#888"/>
<circle cx="621.7" cy="409.2" r="0.34" fill="#888"/>
<circle cx="620.7" cy="364.5" r="0.58" fill="#888"/>
<circle cx="622.5" cy="312.9" r="0.59" fill="#888"/>
<circle cx="619.8" cy="416.3" r="0.39" fill="#888"/>
<circle cx="620.3" cy="250.4" r="0.39" fill="#888"/>
<circle cx="623.7" cy="264.5" r="0.47" fill="#888"/>
<circle cx="622.8" cy="307.4" r="0.46" fill="#888"/>
<circle cx="619.9" cy="237.4" r="0.36" fill="#888"/>
<circle cx="623.0" cy="319.8" r="0.39" fill="#888"/>
<circle cx="622.5" cy="325.5" r="0.39" fill="#888"/>
<circle cx="623.6" cy="380.6" r="0.37" fill="#888"/>
<circle cx="622.5" cy="341.6" r="0.56" fill="#888"/>
<circle cx="623.2" cy="288.5" r="0.59" fill="#888"/>
<circle cx="620.2" cy="317.7" r="0.53" fill="#888"/>
<circle cx="620.4" cy="333.5" r="0.31" fill="#888"/>
<circle cx="622.9" cy="395.3" r="0.47" fill="#888"/>
<circle cx="624.0" cy="294.3" r="0.51" fill="#888"/>
<circle cx="622.6" cy="353.9" r="0.44" fill="#888"/>
<circle cx="623.8" cy="435.6" r="0.44" fill="#888"/>
<circle cx="622.9" cy="237.6" r="0.51" fill="#888"/>
<circle cx="622.8" cy="446.5" r="0.55" fill="#888"/>
<circle cx="621.0" cy="310.4" r="0.50" fill="#888"/>
<circle cx="619.7" cy="327.4" r="0.35" fill="#888"/>
<circle cx="620.2" cy="237.2" r="0.53" fill="#888"/>
<circle cx="620.2" cy="279.5" r="0.42" fill="#888"/>
<circle cx="624.0" cy="242.1" r="0.43" fill="#888"/>
<circle cx="622.3" cy="421.9" r="0.55" fill="#888"/>
<circle cx="623.9" cy="286.4" r="0.42" fill="#888"/>
<circle cx="621.4" cy="422.1" r="0.59" fill="#888"/>
<circle cx="620.4" cy="263.5" r="0.37" fill="#888"/>
<circle cx="620.8" cy="332.6" r="0.48" fill="#888"/>
<circle cx="620.9" cy="224.9" r="0.43" fill="#888"/>
<circle cx="621.4" cy="350.9" r="0.59" fill="#888"/>
<circle cx="623.1" cy="339.5" r="0.49" fill="#888"/>
<circle cx="623.0" cy="236.1" r="0.57" fill="#888"/>
<circle cx="623.5" cy="419.9" r="0.54" fill="#888"/>
<circle cx="621.6" cy="313.4" r="0.33" fill="#888"/>
<circle cx="622.8" cy="237.9" r="0.32" fill="#888"/>
<circle cx="620.6" cy="260.4" r="0.40" fill="#888"/>
<circle cx="619.9" cy="224.1" r="0.35" fill="#888"/>
<circle cx="620.1" cy="305.4" r="0.31" fill="#888"/>
<circle cx="624.0" cy="361.6" r="0.34" fill="#888"/>
<circle cx="620.9" cy="301.8" r="0.41" fill="#888"/>
<circle cx="620.2" cy="414.2" r="0.60" fill="#888"/>
<circle cx="621.9" cy="332.4" r="0.33" fill="#888"/>
<circle cx="620.1" cy="300.8" r="0.38" fill="#888"/>
<circle cx="623.7" cy="260.2" r="0.31" fill="#888"/>
<circle cx="624.4" cy="342.3" r="0.34" fill="#888"/>
<circle cx="622.3" cy="230.1" r="0.46" fill="#888"/>
<circle cx="624.5" cy="417.4" r="0.51" fill="#888"/>
<circle cx="620.9" cy="306.1" r="0.35" fill="#888"/>
<circle cx="623.5" cy="343.3" r="0.53" fill="#888"/>
<circle cx="621.2" cy="274.0" r="0.54" fill="#888"/>
<circle cx="624.5" cy="415.0" r="0.54" fill="#888"/>
<circle cx="623.7" cy="389.7" r="0.37" fill="#888"/>
<circle cx="622.2" cy="303.6" r="0.31" fill="#888"/>
<circle cx="619.7" cy="286.6" r="0.38" fill="#888"/>
<circle cx="623.1" cy="438.3" r="0.43" fill="#888"/>
<circle cx="624.3" cy="445.3" r="0.59" fill="#888"/>
<circle cx="621.4" cy="273.4" r="0.37" fill="#888"/>
<circle cx="620.6" cy="269.8" r="0.49" fill="#888"/>
<circle cx="624.1" cy="412.3" r="0.44" fill="#888"/>
<circle cx="622.9" cy="403.1" r="0.33" fill="#888"/>
<circle cx="622.9" cy="427.8" r="0.53" fill="#888"/>
<circle cx="623.4" cy="331.1" r="0.35" fill="#888"/>
<circle cx="623.5" cy="298.5" r="0.54" fill="#888"/>
<line x1="193.00" y1="882.30" x2="412.00" y2="882.30" stroke="#000" stroke-width="1.2" />
<line x1="193.00" y1="866.00" x2="193.00" y2="889.50" stroke="#000" stroke-width="1.3" />
<circle cx="193.00" cy="882.30" r="2.6" fill="#111"/>
<line x1="276.80" y1="866.00" x2="276.80" y2="889.50" stroke="#000" stroke-width="1.3" />
<circle cx="276.80" cy="882.30" r="2.6" fill="#111"/>
<line x1="411.70" y1="866.00" x2="411.70" y2="889.50" stroke="#000" stroke-width="1.3" />
<circle cx="411.70" cy="882.30" r="2.6" fill="#111"/>
<line x1="394.00" y1="366.40" x2="618.70" y2="366.40" stroke="#000" stroke-width="1.2" />
<line x1="451.20" y1="359.30" x2="451.20" y2="377.60" stroke="#000" stroke-width="1.3" />
<circle cx="451.20" cy="366.40" r="2.6" fill="#111"/>
<line x1="487.50" y1="359.30" x2="487.50" y2="377.60" stroke="#000" stroke-width="1.3" />
<circle cx="487.50" cy="366.40" r="2.6" fill="#111"/>
<line x1="553.20" y1="359.30" x2="553.20" y2="377.60" stroke="#000" stroke-width="1.3" />
<circle cx="553.20" cy="366.40" r="2.6" fill="#111"/>
<circle cx="618.70" cy="366.40" r="2.4" fill="#111"/>
<line x1="330.70" y1="624.00" x2="412.00" y2="624.00" stroke="#000" stroke-width="1.2" />
<line x1="330.70" y1="616.00" x2="330.70" y2="631.00" stroke="#000" stroke-width="1.3" />
<circle cx="330.70" cy="624.00" r="2.6" fill="#111"/>
<line x1="412.00" y1="616.00" x2="412.00" y2="631.00" stroke="#000" stroke-width="1.3" />
<circle cx="412.00" cy="624.00" r="2.6" fill="#111"/>
<line x1="431.30" y1="525.00" x2="431.30" y2="607.20" stroke="#000" stroke-width="1.2" />
<line x1="418.00" y1="525.00" x2="438.20" y2="525.00" stroke="#222" stroke-width="1.3" />
<circle cx="431.30" cy="525.00" r="2.6" fill="#111"/>
<line x1="418.00" y1="607.20" x2="438.20" y2="607.20" stroke="#222" stroke-width="1.3" />
<circle cx="431.30" cy="607.20" r="2.6" fill="#111"/>
<line x1="472.50" y1="457.30" x2="472.50" y2="661.00" stroke="#000" stroke-width="1.1" />
<line x1="470.45" y1="661.00" x2="470.45" y2="860.20" stroke="#000" stroke-width="1.1" />
<line x1="457.50" y1="457.30" x2="512.00" y2="457.30" stroke="#222" stroke-width="1.7" />
<circle cx="471.60" cy="457.30" r="2.6" fill="#111"/>
<circle cx="505.00" cy="457.30" r="2.6" fill="#111"/>
<line x1="418.00" y1="661.00" x2="458.00" y2="661.00" stroke="#333" stroke-width="1.0" />
<line x1="458.00" y1="661.00" x2="478.70" y2="661.00" stroke="#222" stroke-width="1.4" />
<circle cx="470.80" cy="661.00" r="2.6" fill="#111"/>
<line x1="458.90" y1="860.20" x2="477.30" y2="860.20" stroke="#333" stroke-width="1.3" />
<circle cx="470.20" cy="860.20" r="2.6" fill="#111"/>
<line x1="505.45" y1="457.30" x2="505.45" y2="978.20" stroke="#000" stroke-width="1.15" />
<line x1="458.90" y1="978.20" x2="511.90" y2="978.20" stroke="#000" stroke-width="1.0" />
<circle cx="504.80" cy="978.20" r="2.6" fill="#111"/>
<text transform="translate(235.50,894.80) rotate(180) scale(0.9,1)" font-family="'Liberation Sans', sans-serif" font-size="15" fill="#000" text-anchor="middle" y="5.35">1.28</text>
<text transform="translate(344.40,894.80) rotate(180) scale(0.9,1)" font-family="'Liberation Sans', sans-serif" font-size="15" fill="#000" text-anchor="middle" y="5.35">2.06</text>
<text transform="translate(371.60,635.50) rotate(180) scale(0.9,1)" font-family="'Liberation Sans', sans-serif" font-size="15" fill="#000" text-anchor="middle" y="5.35">1.24</text>
<text transform="translate(412.30,377.70) rotate(180) scale(0.9,1)" font-family="'Liberation Sans', sans-serif" font-size="15" fill="#000" text-anchor="middle" y="5.35">0.56</text>
<text transform="translate(520.10,377.40) rotate(180) scale(0.9,1)" font-family="'Liberation Sans', sans-serif" font-size="15" fill="#000" text-anchor="middle" y="5.35">1.00</text>
<text transform="translate(585.90,377.40) rotate(180) scale(0.9,1)" font-family="'Liberation Sans', sans-serif" font-size="15" fill="#000" text-anchor="middle" y="5.35">1.00</text>
<text transform="translate(419.80,566.60) rotate(-90) scale(0.9,1)" font-family="'Liberation Sans', sans-serif" font-size="15" fill="#000" text-anchor="middle" y="5.35">1.26</text>
<text transform="translate(459.90,559.50) rotate(-90) scale(0.9,1)" font-family="'Liberation Sans', sans-serif" font-size="15" fill="#000" text-anchor="middle" y="5.35">3.10</text>
<text transform="translate(459.90,761.00) rotate(-90) scale(0.9,1)" font-family="'Liberation Sans', sans-serif" font-size="15" fill="#000" text-anchor="middle" y="5.35">3.04</text>
<text transform="translate(493.20,713.30) rotate(-90) scale(0.9,1)" font-family="'Liberation Sans', sans-serif" font-size="15" fill="#000" text-anchor="middle" y="5.35">7.96</text>
<text transform="translate(209.80,413.20) rotate(-90)" font-family="'DejaVu Sans', 'Liberation Sans', sans-serif" font-weight="200" font-size="17.5" fill="#9a9a9a" textLength="34.5" lengthAdjust="spacingAndGlyphs">0.27</text>
<text transform="translate(335.50,369.20) rotate(-90)" font-family="'DejaVu Sans', 'Liberation Sans', sans-serif" font-weight="200" font-size="17.5" fill="#9a9a9a" textLength="26.5" lengthAdjust="spacingAndGlyphs">41°</text>
<text transform="translate(581.90,161.00) rotate(-90)" font-family="'DejaVu Sans', 'Liberation Sans', sans-serif" font-weight="200" font-size="17.5" fill="#9a9a9a" textLength="30.5" lengthAdjust="spacingAndGlyphs">1.31</text>
<line x1="204.00" y1="418.60" x2="204.00" y2="431.00" stroke="#000" stroke-width="0.9" />
<path d="M204 442 L202 430.4 L206 430.4 Z" fill="#000"/>
<path d="M204 461 L202 472.4 L206 472.4 Z" fill="#000"/>
<line x1="204.00" y1="472.00" x2="204.00" y2="483.50" stroke="#000" stroke-width="0.9" />
<path d="M290.3 349.2 L302 347.2 L302 351.6 Z" fill="#000"/>
<path d="M302 349.6 Q310 350.5 317 352.6" fill="none" stroke="#888" stroke-width="0.6"/>
<path d="M340.4 361 Q347 364.5 352.6 369.4" fill="none" stroke="#888" stroke-width="0.6"/>
<path d="M362.5 375.8 L351.8 370.9 L353.9 367.7 Z" fill="#000"/>
<line x1="532.40" y1="133.00" x2="532.40" y2="205.50" stroke="#aaa" stroke-width="0.7" />
<line x1="618.40" y1="133.00" x2="618.40" y2="218.70" stroke="#aaa" stroke-width="0.7" />
<line x1="544.00" y1="145.30" x2="562.60" y2="145.30" stroke="#aaa" stroke-width="0.7" />
<line x1="587.30" y1="145.30" x2="607.00" y2="145.30" stroke="#aaa" stroke-width="0.7" />
<path d="M532.6 145.3 L544.2 143.2 L544.2 147.4 Z" fill="#000"/>
<path d="M618.2 145.3 L606.6 143.2 L606.6 147.4 Z" fill="#000"/>
<text transform="translate(367.00,350.00) rotate(-90)" font-family="'Liberation Sans', sans-serif" font-size="9" fill="#000" text-anchor="start" textLength="77.0" lengthAdjust="spacingAndGlyphs" stroke="#000" stroke-width="0.15">Track Cable at full load</text>
<text transform="translate(601.60,341.50) rotate(-90)" font-family="'Liberation Sans', sans-serif" font-size="8.5" fill="#000" text-anchor="start" textLength="60.0" lengthAdjust="spacingAndGlyphs" >Landing plateform</text>
<text transform="translate(649.40,245.00) rotate(-90)" font-family="'Liberation Sans', sans-serif" font-size="8.5" fill="#000" text-anchor="start" textLength="62.0" lengthAdjust="spacingAndGlyphs" >Excavated Ground</text>
<circle cx="301.3" cy="637.8" r="0.45" fill="#777"/>
<circle cx="223.3" cy="872.5" r="0.45" fill="#777"/>
<circle cx="425.2" cy="591.2" r="0.45" fill="#777"/>
<circle cx="684.3" cy="217.7" r="0.45" fill="#777"/>
<g stroke="#000" fill="none" stroke-linecap="butt">
<path d="M468.8 257.8 L504.8 205.6" stroke-width="4.3"/>
<path d="M468.8 257.8 L504.8 205.6" stroke="#fff" stroke-width="1.8"/>
<path d="M487.5 236.5 L507.5 208.0" stroke-width="0.8"/>
<path d="M492.9 235.8 L488.7 227.0" stroke-width="1.0"/>
<circle cx="505.3" cy="204.2" r="4.9" fill="#1a1a1a" stroke="none"/>
<circle cx="504.8" cy="205.0" r="1.1" fill="#ddd" stroke="none"/>
<circle cx="506.90000000000003" cy="202.6" r="0.8" fill="#ccc" stroke="none"/>
<circle cx="510.90000000000003" cy="208.39999999999998" r="2.2" fill="#111" stroke="none"/>
<circle cx="507.5" cy="199.6" r="1.8" fill="#222" stroke="none"/>
<circle cx="502.1" cy="207.79999999999998" r="1.8" fill="#222" stroke="none"/>
<circle cx="468.0" cy="258.7" r="4.9" fill="#1a1a1a" stroke="none"/>
<circle cx="467.5" cy="259.5" r="1.1" fill="#ddd" stroke="none"/>
<circle cx="469.6" cy="257.09999999999997" r="0.8" fill="#ccc" stroke="none"/>
<circle cx="473.6" cy="262.9" r="2.2" fill="#111" stroke="none"/>
<circle cx="470.2" cy="254.1" r="1.8" fill="#222" stroke="none"/>
<circle cx="464.8" cy="262.3" r="1.8" fill="#222" stroke="none"/>
<path d="M492.9 235.8 C500 226 508 218 514 214.5 C520 211 526 210 532.7 210.5" stroke-width="2.7"/>
<path d="M492.9 235.8 C500 226 508 218 514 214.5 C520 211 526 210 532.7 210.5" stroke="#fff" stroke-width="0.8"/>
<path d="M492.9 235.8 C496 250 500 260 507 267 C512 271.5 516 273 520.9 274.1" stroke-width="2.7"/>
<path d="M492.9 235.8 C496 250 500 260 507 267 C512 271.5 516 273 520.9 274.1" stroke="#fff" stroke-width="0.8"/>
<path d="M485.2 235.5 L526.5 242.2" stroke-width="0.9"/>
<path d="M532.7 210.5 L555.5 214.5 M520.9 274.1 L543.2 279.1" stroke-width="2.2"/>
<path d="M532.7 210.5 L555.5 214.5 M520.9 274.1 L543.2 279.1" stroke="#fff" stroke-width="0.6"/>
<path d="M532.7 210.5 L520.9 274.1 M555.5 214.5 L543.2 279.1" stroke-width="2.3" stroke-linecap="square"/>
<path d="M531.52 216.86 L554.27 220.96" stroke-width="1.7"/>
<path d="M530.34 223.22 L553.04 227.42" stroke-width="1.7"/>
<path d="M529.16 229.58 L551.81 233.88" stroke-width="1.7"/>
<path d="M527.98 235.94 L550.58 240.34" stroke-width="1.7"/>
<path d="M526.80 242.30 L549.35 246.80" stroke-width="1.7"/>
<path d="M525.62 248.66 L548.12 253.26" stroke-width="1.7"/>
<path d="M524.44 255.02 L546.89 259.72" stroke-width="1.7"/>
<path d="M523.26 261.38 L545.66 266.18" stroke-width="1.7"/>
<path d="M522.08 267.74 L544.43 272.64" stroke-width="1.7"/>
</g>
<g stroke="#000" fill="none">
<path d="M413.6 934.8 L442.7 921.7 M413.6 934.8 L424.1 958.7 L442.7 950.5" stroke-width="1.1"/>
<path d="M432 925 L441 950.5" stroke-width="3.6"/>
<path d="M423.6 927.5 L437 958" stroke-width="2.3" stroke-dasharray="1.4 0.6" stroke="#222"/>
<ellipse cx="417.20" cy="890.40" rx="3.3" ry="1.6" transform="rotate(-18 417.20 890.40)" fill="#000" stroke="none"/>
<ellipse cx="419.28" cy="896.66" rx="3.3" ry="1.6" transform="rotate(-18 419.28 896.66)" fill="#000" stroke="none"/>
<ellipse cx="421.36" cy="902.92" rx="3.3" ry="1.6" transform="rotate(-18 421.36 902.92)" fill="#000" stroke="none"/>
<ellipse cx="423.44" cy="909.18" rx="3.3" ry="1.6" transform="rotate(-18 423.44 909.18)" fill="#000" stroke="none"/>
<ellipse cx="425.52" cy="915.44" rx="3.3" ry="1.6" transform="rotate(-18 425.52 915.44)" fill="#000" stroke="none"/>
<ellipse cx="427.60" cy="921.70" rx="3.3" ry="1.6" transform="rotate(-18 427.60 921.70)" fill="#000" stroke="none"/>
<path d="M406.8 860.4 L413 877.3 L418.8 891.5" stroke-width="0.9"/>
</g>
</svg>
</body></html>
